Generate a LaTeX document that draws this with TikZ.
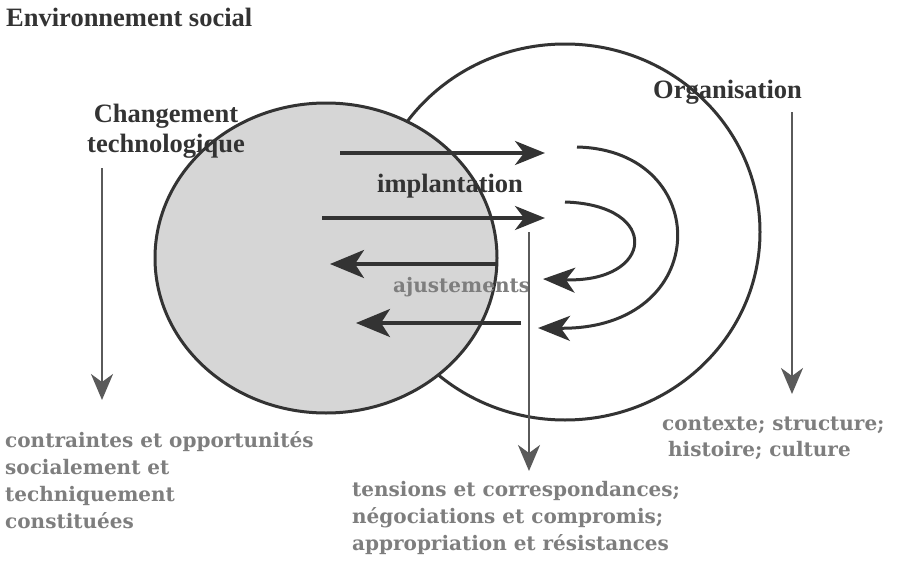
\documentclass[tikz,border=0pt]{standalone}
\usepackage{fontspec}
\setmainfont{Liberation Serif}
\newfontfamily\slab{DejaVu Serif}
\usetikzlibrary{arrows.meta,shapes.geometric}
\definecolor{ink}{HTML}{333333}
\definecolor{thin}{HTML}{5A5A5A}
\definecolor{greytext}{HTML}{7E7E7E}
\definecolor{techfill}{HTML}{D6D6D6}
\tikzset{
  label/.style={inner sep=0pt, text=ink, font=\fontsize{26.5}{30}\selectfont\bfseries},
  note/.style={inner sep=0pt, text=greytext, align=left, font=\slab\bfseries\fontsize{20}{27}\selectfont},
  circ/.style={ellipse, draw=ink, line width=3pt, inner sep=0pt, outer sep=0pt},
  flow/.style={draw=ink, line width=3.5pt, -{Stealth[length=30pt,width=24pt,inset=9pt]}},
  back/.style={draw=ink, line width=3.5pt, -{Stealth[length=34pt,width=28pt,inset=9pt]}},
  loop/.style={draw=ink, line width=3pt, -{Stealth[length=32pt,width=25pt,inset=9pt]}},
  down/.style={draw=thin, line width=2.2pt, -{Stealth[length=26pt,width=22pt,inset=8pt]}}
}
\begin{document}
\begin{tikzpicture}[x=1pt,y=-1pt]
\useasboundingbox[fill=white] (0,0) rectangle (900,562);

% circles
\node[circ, fill=white, minimum width=390pt, minimum height=376pt] (org) at (565,232) {};
\node[circ, fill=techfill, minimum width=342pt, minimum height=310pt] (tech) at (326,258) {};

% labels
\node[label, anchor=base west] (env) at (6,26) {Environnement social};
\node[label, anchor=north, align=center] (chg) at (166,104) {Changement\\technologique};
\node[label, anchor=base west] (orgl) at (653,98) {Organisation};
\node[label, anchor=base west] (impl) at (377,192) {implantation};
\node[note, anchor=west] (ajus) at (393,287) {ajustements};

\node[note, anchor=north west] (ctr) at (5,431) {contraintes et opportunités\\socialement et\\techniquement\\constituées};
\node[note, anchor=north west] (tens) at (352,481) {tensions et correspondances;\\négociations et compromis;\\appropriation et résistances};
\node[note, anchor=north west, font=\slab\bfseries\fontsize{20}{25.5}\selectfont] (ctx) at (662,417) {contexte; structure;\\\hspace*{6pt}histoire; culture};

% arrow end points
\coordinate (a1s) at (340,153); \coordinate (a1e) at (545,153);
\coordinate (a2s) at (322,218); \coordinate (a2e) at (545,218);
\coordinate (a3s) at (496,264); \coordinate (a3e) at (330,264);
\coordinate (a4s) at (521,323); \coordinate (a4e) at (356,323);
\coordinate (l1s) at (565,202); \coordinate (l1e) at (543,279);
\coordinate (l2s) at (577,147); \coordinate (l2e) at (538,328);
\coordinate (vls) at (102,168); \coordinate (vle) at (102,400);
\coordinate (vms) at (529,232); \coordinate (vme) at (529,471);
\coordinate (vrs) at (792,112); \coordinate (vre) at (792,394);

% arrows
\draw[flow] (a1s) -- (a1e);
\draw[flow] (a2s) -- (a2e);
\draw[back] (a3s) -- (a3e);
\draw[back] (a4s) -- (a4e);
\draw[loop] (l1s) .. controls (662,205) and (654,283) .. (l1e);
\draw[loop] (l2s) .. controls (714,150) and (714,330) .. (l2e);
\draw[down] (vls) -- (vle);
\draw[down] (vms) -- (vme);
\draw[down] (vrs) -- (vre);
\end{tikzpicture}
\end{document}
